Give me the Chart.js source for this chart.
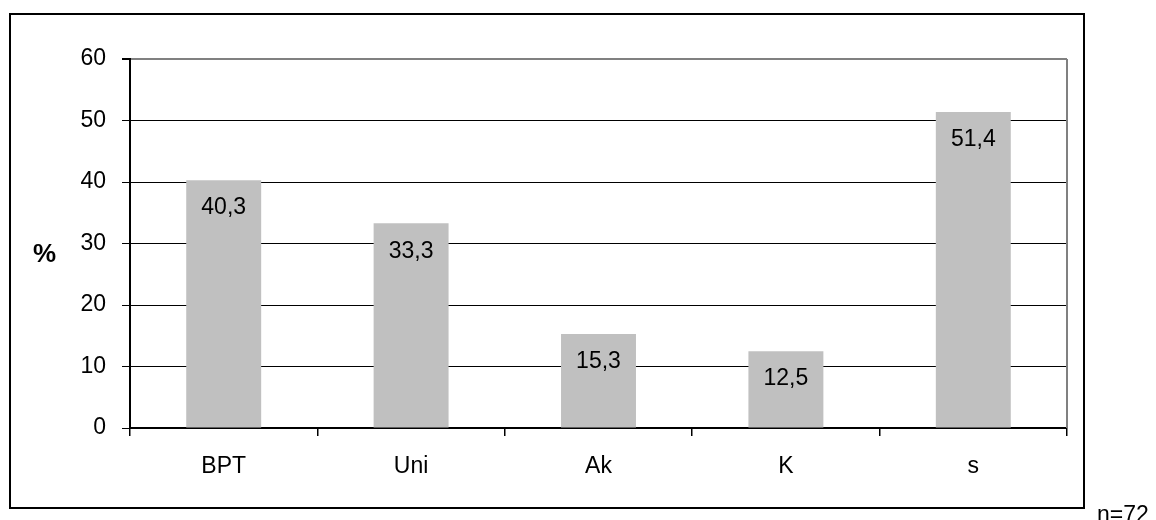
<!DOCTYPE html>
<html>
<head>
<meta charset="utf-8">
<script src="https://cdn.jsdelivr.net/npm/chart.js@4/dist/chart.umd.min.js"></script>
<style>
    html, body { margin: 0; padding: 0; background: #fff; overflow: hidden; }
    #wrap { position: relative; width: 1156px; height: 520px; }
    #frame {
        position: absolute; left: 9px; top: 13px; width: 1076px; height: 496px;
        box-sizing: border-box; border: 2px solid #000; pointer-events: none;
    }
    #yTitle {
        position: absolute; left: 33px; top: 238px;
        font: bold 26px "Liberation Sans", Arial, sans-serif; color: #000;
    }
    #note {
        position: absolute; left: 1097px; top: 501px; line-height: 23px;
        font: 23px "Liberation Sans", Arial, sans-serif; color: #000; white-space: nowrap;
    }
</style>
</head>
<body>
<div id="wrap">
    <canvas id="barChart" width="1156" height="520"></canvas>
    <div id="frame"></div>
    <div id="yTitle">%</div>
    <div id="note">n=72</div>
</div>
<script>
const categories = ['BPT', 'Uni', 'Ak', 'K', 's'];
const shares = [40.3, 33.3, 15.3, 12.5, 51.4];
const yTicks = [0, 10, 20, 30, 40, 50, 60];

const FONT = '"Liberation Sans", Arial, sans-serif';

// right + top edge of the plot area in grey
const plotBorder = {
    id: 'plotBorder',
    beforeDatasetsDraw(chart) {
        const { ctx, chartArea } = chart;
        ctx.save();
        ctx.strokeStyle = '#808080';
        ctx.lineWidth = 2;
        ctx.beginPath();
        ctx.moveTo(chartArea.right, chartArea.top);
        ctx.lineTo(chartArea.right, chartArea.bottom);
        ctx.stroke();
        ctx.restore();
    }
};

// value labels inside the top of each bar
const barLabels = {
    id: 'barLabels',
    afterDatasetsDraw(chart) {
        const { ctx } = chart;
        const meta = chart.getDatasetMeta(0);
        ctx.save();
        ctx.font = '23px ' + FONT;
        ctx.fillStyle = '#000';
        ctx.textAlign = 'center';
        ctx.textBaseline = 'middle';
        meta.data.forEach((bar, i) => {
            const text = shares[i].toFixed(1).replace('.', ',');
            ctx.fillText(text, bar.x, bar.y + 28);
        });
        ctx.restore();
    }
};

const ctx = document.getElementById('barChart').getContext('2d');
new Chart(ctx, {
    type: 'bar',
    data: {
        labels: categories,
        datasets: [{
            data: shares,
            backgroundColor: '#c0c0c0',
            borderWidth: 0,
            categoryPercentage: 1.0,
            barPercentage: 0.4
        }]
    },
    options: {
        responsive: false,
        animation: false,
        devicePixelRatio: 1,
        layout: {
            padding: { top: 59, right: 89, left: 0, bottom: 0 }
        },
        plugins: {
            legend: { display: false },
            tooltip: { enabled: false }
        },
        scales: {
            x: {
                offset: true,
                afterFit(scale) { scale.height = 92; },
                grid: {
                    offset: true,
                    drawOnChartArea: false,
                    tickLength: 8,
                    color: '#000',
                    lineWidth: 1.5
                },
                border: { display: true, color: '#000', width: 2 },
                ticks: {
                    color: '#000',
                    padding: 17,
                    maxRotation: 0,
                    font: { family: FONT, size: 23 }
                }
            },
            y: {
                min: yTicks[0],
                max: yTicks[yTicks.length - 1],
                afterFit(scale) { scale.width = 130; },
                afterBuildTicks(scale) {
                    scale.ticks = yTicks.map(v => ({ value: v }));
                },
                grid: {
                    tickLength: 8,
                    color: c => c.tick && c.tick.value === 60 ? '#808080' : '#000',
                    tickColor: '#000',
                    lineWidth: c => c.tick && c.tick.value === 60 ? 2 : 1
                },
                border: { display: true, color: '#000', width: 2 },
                ticks: {
                    color: '#000',
                    padding: 16,
                    font: { family: FONT, size: 23 }
                }
            }
        }
    },
    plugins: [plotBorder, barLabels]
});
</script>
</body>
</html>
